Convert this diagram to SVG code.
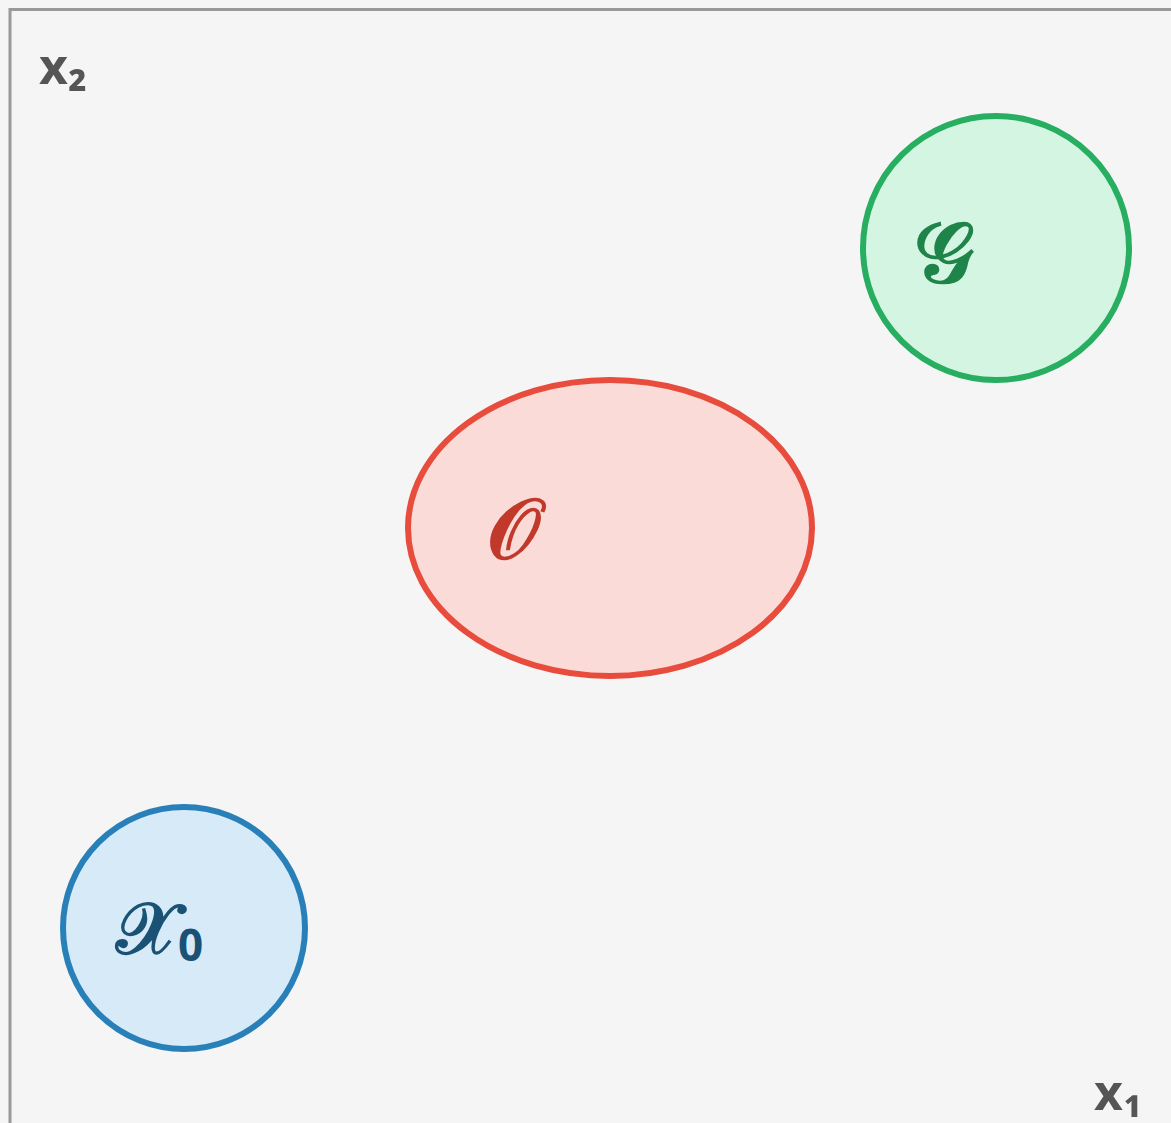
<svg xmlns="http://www.w3.org/2000/svg" width="1171" height="1123" viewBox="0 0 1171 1123">
<style>
.axis{font-family:"Open Sans","DejaVu Sans",sans-serif;font-weight:bold;fill:#555555;font-size:50px}
.set{font-family:"DejaVu Serif","Noto Sans",serif;font-size:84px;font-weight:bold}
.sub{font-family:"Open Sans","DejaVu Sans",sans-serif;font-weight:bold;font-size:44px}
.node{stroke-width:6}
</style>
<rect x="0" y="0" width="1171" height="1123" fill="#f5f5f5"/>
<g id="axes">
<path d="M10 1123 V9.5 H1171" fill="none" stroke="#999999" stroke-width="3"/>
<text class="axis" x="39" y="84">x₂</text>
<text class="axis" x="1094" y="1110">x₁</text>
</g>
<g id="goal">
<ellipse class="node" cx="996" cy="248" rx="133" ry="132" fill="#d5f5e3" stroke="#27ae60"/>
<text class="set" x="944" y="282" text-anchor="middle" fill="#1e8449">𝒢</text>
</g>
<g id="obstacle">
<ellipse class="node" cx="610" cy="528" rx="202" ry="148" fill="#fadbd8" stroke="#e74c3c"/>
<text class="set" x="513" y="558" text-anchor="middle" fill="#c0392b">𝒪</text>
</g>
<g id="start">
<ellipse class="node" cx="184" cy="928" rx="121" ry="121" fill="#d6eaf8" stroke="#2980b9"/>
<text x="116" y="953" fill="#1a5276"><tspan class="set" style="font-size:72px">𝒳</tspan><tspan class="sub" dy="8">0</tspan></text>
</g>
</svg>
